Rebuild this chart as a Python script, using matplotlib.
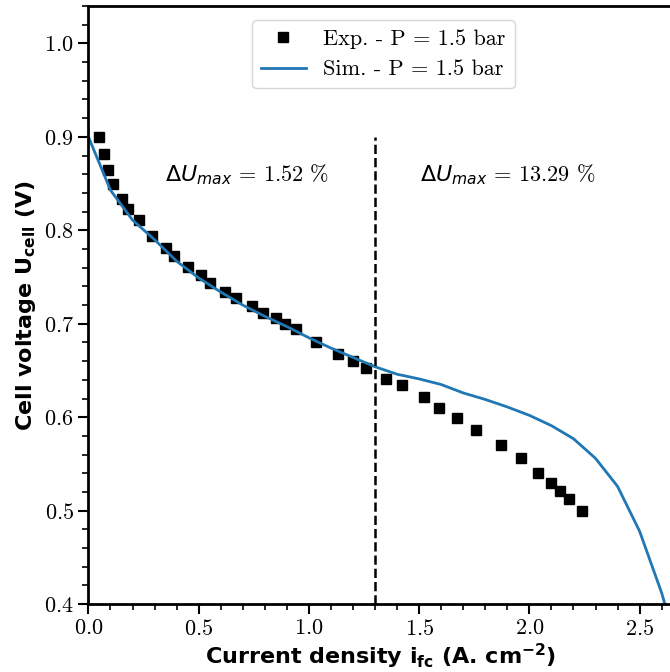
import numpy as np
import matplotlib
matplotlib.use("Agg")
import matplotlib.pyplot as plt
from matplotlib.ticker import MultipleLocator

plt.rcParams['font.family'] = 'serif'
plt.rcParams['font.serif'] = ['cmr10']
plt.rcParams['axes.formatter.use_mathtext'] = True
plt.rcParams['mathtext.fontset'] = 'dejavusans'

# experimental polarization curve
exp_i = [0.05, 0.07, 0.09, 0.11, 0.15, 0.18, 0.23, 0.29, 0.35, 0.39, 0.45, 0.51,
         0.55, 0.62, 0.67, 0.74, 0.79, 0.85, 0.89, 0.94, 1.03, 1.13, 1.20, 1.26,
         1.35, 1.42, 1.52, 1.59, 1.67, 1.76, 1.87, 1.96, 2.04, 2.10, 2.14, 2.18, 2.24]
exp_u = [0.900, 0.882, 0.865, 0.850, 0.833, 0.823, 0.811, 0.794, 0.781, 0.772, 0.761, 0.752,
         0.744, 0.734, 0.728, 0.719, 0.712, 0.706, 0.700, 0.694, 0.681, 0.668, 0.660, 0.653,
         0.641, 0.634, 0.622, 0.610, 0.599, 0.586, 0.570, 0.556, 0.540, 0.530, 0.521, 0.513, 0.500]

# simulated polarization curve
sim_i = [0.0, 0.1, 0.2, 0.3, 0.4, 0.5, 0.6, 0.7, 0.8, 0.9, 1.0, 1.1, 1.2, 1.3,
         1.4, 1.5, 1.6, 1.7, 1.8, 1.9, 2.0, 2.1, 2.2, 2.3, 2.4, 2.5, 2.6, 2.7]
sim_u = [0.900, 0.843, 0.811, 0.790, 0.767, 0.749, 0.734, 0.720, 0.708, 0.697, 0.685, 0.674,
         0.664, 0.654, 0.646, 0.641, 0.635, 0.626, 0.619, 0.611, 0.602, 0.591, 0.577, 0.556,
         0.526, 0.478, 0.412, 0.330]

i_split = 1.3
dU_low = 1.52
dU_high = 13.29

fig = plt.figure(figsize=(6.7, 6.72), dpi=100)
ax = fig.add_axes([0.132, 0.101, 0.872, 0.890])

ax.plot(exp_i, exp_u, 's', color='black', markersize=7, label='Exp. - P = 1.5 bar')
ax.plot(sim_i, sim_u, '-', color='#1f77b4', linewidth=2, label='Sim. - P = 1.5 bar')
ax.axvline(i_split, color='black', linestyle='--', linewidth=1.8, ymax=(0.9 - 0.4) / 0.64)

ax.text(0.72, 0.859, r'$\Delta U_{max}$' + f' = {dU_low} %', fontsize=16, ha='center', va='center')
ax.text(1.90, 0.859, r'$\Delta U_{max}$' + f' = {dU_high} %', fontsize=16, ha='center', va='center')

ax.set_xlim(0, 2.65)
ax.set_ylim(0.4, 1.04)
ax.xaxis.set_major_locator(MultipleLocator(0.5))
ax.xaxis.set_minor_locator(MultipleLocator(0.1))
ax.yaxis.set_major_locator(MultipleLocator(0.1))
ax.yaxis.set_minor_locator(MultipleLocator(0.02))
ax.tick_params(which='major', length=7, width=1.5, labelsize=16)
ax.tick_params(which='minor', length=4, width=1.2)
for s in ax.spines.values():
    s.set_linewidth(2)

ax.set_xlabel(r'Current density $\mathbf{i_{fc}}$ (A. cm$\mathbf{^{-2}}$)',
              family='DejaVu Sans', fontweight='bold', fontsize=16, labelpad=2)
ax.set_ylabel(r'Cell voltage $\mathbf{U_{cell}}$ (V)',
              family='DejaVu Sans', fontweight='bold', fontsize=16, labelpad=4)

ax.legend(loc='upper center', fontsize=16, bbox_to_anchor=(0.505, 0.995))

fig.savefig('out.png', dpi=100)
